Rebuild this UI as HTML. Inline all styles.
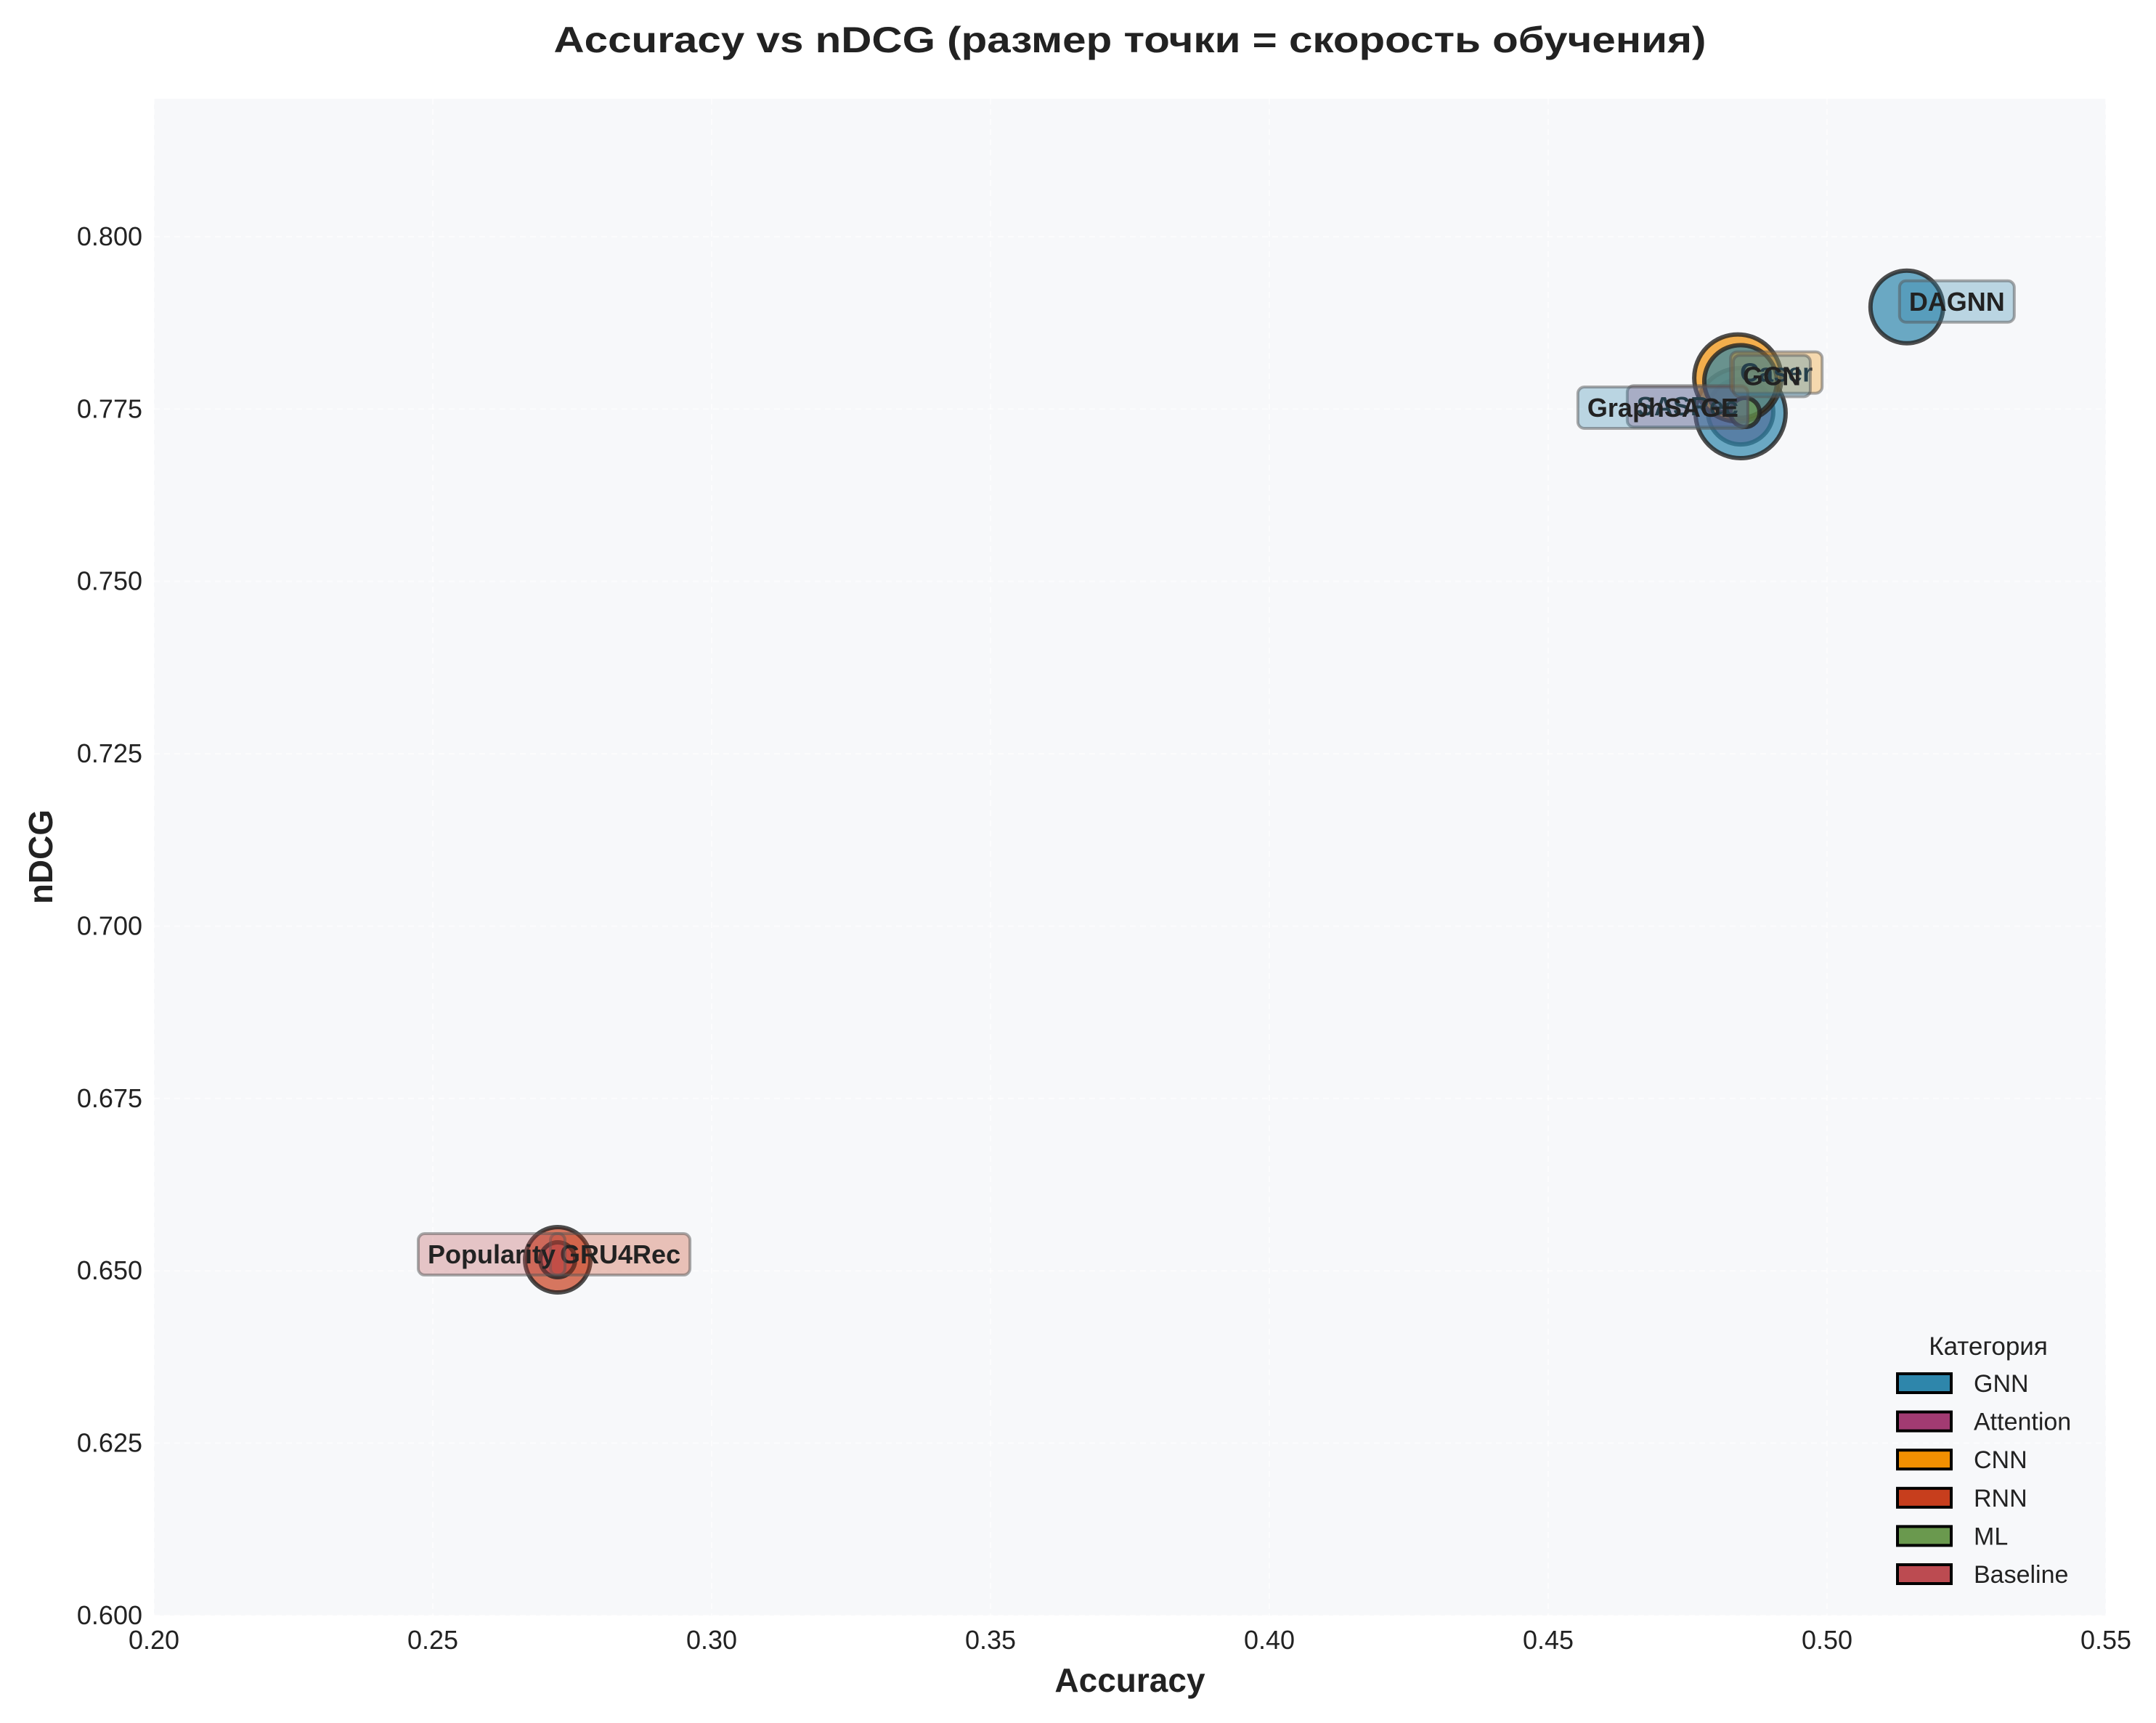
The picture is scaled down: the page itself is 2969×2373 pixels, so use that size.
<!DOCTYPE html>
<html><head><meta charset="utf-8"><style>
html,body{margin:0;padding:0;background:#fff;}
svg text{font-family:"Liberation Sans",Arial,sans-serif;fill:#222;}
</style></head><body>
<svg id="chart" width="2969" height="2368" viewBox="0 0 2969 2368" xmlns="http://www.w3.org/2000/svg">
<rect x="0" y="0" width="2969" height="2368" fill="#ffffff"/>
<rect x="212" y="136" width="2688" height="2089" fill="#f7f8fa"/>
<g id="grid"></g>
<g id="marks"></g>
<g id="labels"></g>
<g id="xticks"></g>
<g id="yticks"></g>
<text x="1556" y="72" text-anchor="middle" font-size="50" font-weight="bold" textLength="1587" lengthAdjust="spacingAndGlyphs">Accuracy vs nDCG (размер точки = скорость обучения)</text>
<text x="1556" y="2330" text-anchor="middle" font-size="46" font-weight="bold">Accuracy</text>
<text x="72" y="1180" text-anchor="middle" font-size="46" font-weight="bold" transform="rotate(-90 72 1180)">nDCG</text>
<g id="legend">
<text x="2738" y="1866" text-anchor="middle" font-size="35">Категория</text>
</g>
</svg>
<script>
const categories = ["GNN","Attention","CNN","RNN","ML","Baseline"];
const categoryColors = ["#2E86AB","#A23B72","#F18F01","#C73E1D","#6A994E","#BC4B51"];
const models = ["SASRec","GraphSAGE","Caser","GCN","ML-model","DAGNN","GRU4Rec","Popularity"];
const modelCategory = ["Attention","GNN","CNN","GNN","ML","GNN","RNN","Baseline"];
const accuracy = [0.4845,0.4845,0.4840,0.4845,0.4853,0.5143,0.2724,0.2724];
const ndcg = [0.7746,0.7744,0.7795,0.7790,0.7745,0.7898,0.6516,0.6516];
const speed = [45,62,60,50,20,50,45,24];
const labelSide = ["right","right","left","left","none","left","left","right"];
const xTicks = [0.20,0.25,0.30,0.35,0.40,0.45,0.50,0.55];
const yTicks = [0.600,0.625,0.650,0.675,0.700,0.725,0.750,0.775,0.800];

const X0=212,X1=2900,Y0=2225,Y1=136;
const xMin=0.2,xMax=0.55,yMin=0.6,yMax=0.82;
function sx(v){return X0+(v-xMin)/(xMax-xMin)*(X1-X0);}
function sy(v){return Y0-(v-yMin)/(yMax-yMin)*(Y0-Y1);}
const NS="http://www.w3.org/2000/svg";
function mk(tag,attrs,parent){const e=document.createElementNS(NS,tag);for(const k in attrs)e.setAttribute(k,attrs[k]);parent.appendChild(e);return e;}

const grid=document.getElementById('grid');
const xt=document.getElementById('xticks');
const yt=document.getElementById('yticks');
xTicks.forEach(v=>{
  const l=mk('line',{x1:sx(v),x2:sx(v),y1:Y1,y2:Y0,stroke:'#ffffff','stroke-width':2,'stroke-dasharray':'8,6','stroke-opacity':0.6},grid);
  
  
  const t=mk('text',{x:sx(v),y:Y0+46,'text-anchor':'middle','font-size':36},xt);
  t.textContent=v.toFixed(2);
  
  
});
yTicks.forEach(v=>{
  const l=mk('line',{x1:X0,x2:X1,y1:sy(v),y2:sy(v),stroke:'#ffffff','stroke-width':2,'stroke-dasharray':'8,6','stroke-opacity':0.6},grid);
  
  
  const t=mk('text',{x:X0-16,y:sy(v)+12,'text-anchor':'end','font-size':36},yt);
  t.textContent=v.toFixed(3);
  
  
});

const marks=document.getElementById('marks');
const labels=document.getElementById('labels');
models.forEach((m,i)=>{
  const col=categoryColors[categories.indexOf(modelCategory[i])];
  const c=mk('circle',{cx:sx(accuracy[i]),cy:sy(ndcg[i]),r:speed[i],fill:col,'fill-opacity':0.7,stroke:'#222','stroke-width':6,'stroke-opacity':0.8},marks);
  
  
});
models.forEach((m,i)=>{
  if(labelSide[i]==='none')return;
  const col=categoryColors[categories.indexOf(modelCategory[i])];
  const px=sx(accuracy[i]),py=sy(ndcg[i])-8;
  const g=mk('g',{},labels);
  
  
  const t=mk('text',{x:px+(labelSide[i]==='left'?3:-3),y:py+13,'text-anchor':labelSide[i]==='left'?'start':'end','font-size':36,'font-weight':'bold'},g);
  t.textContent=m;
  const bb=t.getBBox();
  const r=mk('rect',{x:bb.x-13,y:py-28,width:bb.width+26,height:57,rx:9,fill:col,'fill-opacity':0.3,stroke:'#555','stroke-opacity':0.5,'stroke-width':4},g);
  g.insertBefore(r,t);
});

const lg=document.getElementById('legend');
categories.forEach((c,i)=>{
  const y=1905+i*52.6;
  const r=mk('rect',{x:2613,y:y-13,width:74,height:26,fill:categoryColors[i],stroke:'#000','stroke-width':4},lg);
  
  
  const t=mk('text',{x:2718,y:y+12,'font-size':34},lg);
  t.textContent=c;
  
  
});
</script>
</body></html>
